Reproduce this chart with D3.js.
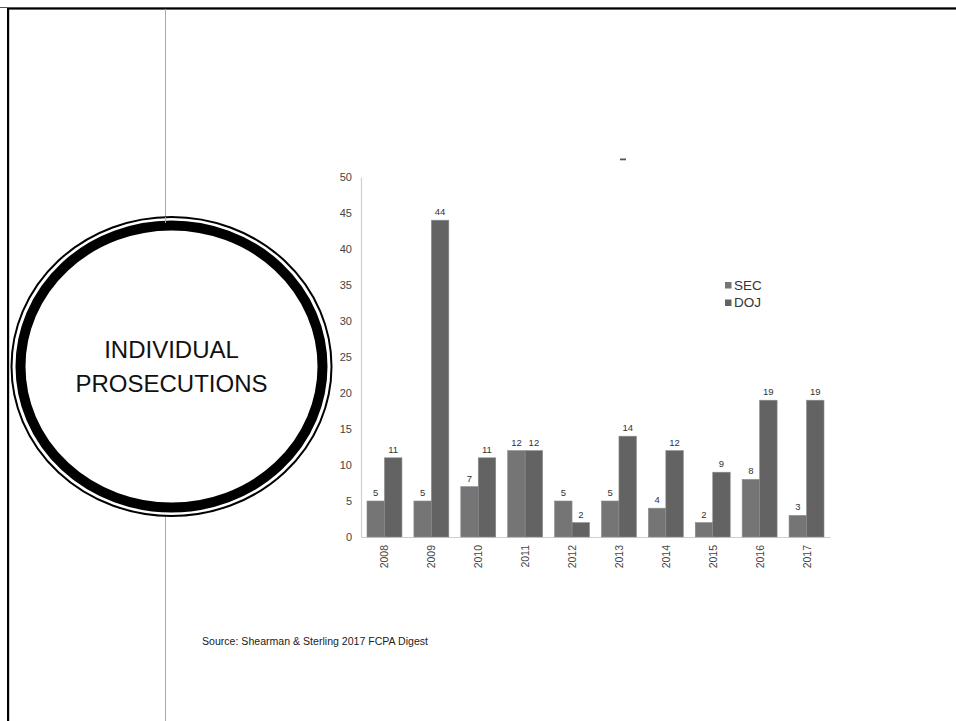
<!DOCTYPE html>
<html>
<head>
<meta charset="utf-8">
<script src="https://cdn.jsdelivr.net/npm/d3@7/dist/d3.min.js"></script>
<style>
  html, body { margin: 0; padding: 0; background: #fff; }
  svg { display: block; }
</style>
</head>
<body>
<svg id="chart" width="956" height="721"></svg>
<script>
// FCPA individual prosecutions by year
const years = ["2008", "2009", "2010", "2011", "2012", "2013", "2014", "2015", "2016", "2017"];
const secValues = [5, 5, 7, 12, 5, 5, 4, 2, 8, 3];
const dojValues = [11, 44, 11, 12, 2, 14, 12, 9, 19, 19];
const seriesNames = ["SEC", "DOJ"];
const yTicks = [0, 5, 10, 15, 20, 25, 30, 35, 40, 45, 50];
const titleLines = ["INDIVIDUAL", "PROSECUTIONS"];
const sourceNote = "Source: Shearman & Sterling 2017 FCPA Digest";

const colors = { SEC: "#757575", DOJ: "#636363" };

const svg = d3.select("#chart");

// page frame
svg.append("rect").attr("x", 0).attr("y", 7).attr("width", 956).attr("height", 1).attr("fill", "#555");
svg.append("rect").attr("x", 7).attr("y", 8).attr("width", 949).attr("height", 1.6).attr("fill", "#000");
svg.append("rect").attr("x", 7).attr("y", 8).attr("width", 2.2).attr("height", 713).attr("fill", "#000");
svg.append("line").attr("x1", 165.5).attr("x2", 165.5).attr("y1", 9).attr("y2", 721)
  .attr("stroke", "#aaa").attr("stroke-width", 1);

// chart area
const x0 = d3.scaleBand().domain(years).range([361, 830]).paddingInner(0.255).paddingOuter(0.128);
const x1 = d3.scaleBand().domain(seriesNames).range([0, x0.bandwidth()]);
const y = d3.scaleLinear().domain([0, 50]).range([537, 177]);

const g = svg.append("g");

// y axis
const yAxis = g.append("g").attr("transform", "translate(361,0)")
  .call(d3.axisLeft(y).tickValues(yTicks).tickSize(0).tickPadding(9));
yAxis.select(".domain").attr("stroke", "#d0d0d0").attr("stroke-width", 1.2);
yAxis.selectAll("text").attr("font-family", "Liberation Sans, Arial, sans-serif")
  .attr("font-size", 11).attr("fill", "#444");

// x axis
const xAxis = g.append("g").attr("transform", "translate(0,537)")
  .call(d3.axisBottom(x0).tickSize(0).tickPadding(0));
xAxis.select(".domain").attr("stroke", "#d0d0d0").attr("stroke-width", 1.2);
xAxis.selectAll("text")
  .attr("font-family", "Liberation Sans, Arial, sans-serif")
  .attr("font-size", 10.5).attr("fill", "#444")
  .attr("text-anchor", "end")
  .attr("transform", "translate(4,8) rotate(-90)")
  .attr("dy", 0).attr("x", 0).attr("y", 0);

// bars
const rows = years.map((yr, i) => ({ year: yr, SEC: secValues[i], DOJ: dojValues[i] }));
const groups = g.selectAll(".grp").data(rows).join("g")
  .attr("transform", d => `translate(${x0(d.year)},0)`);

groups.selectAll("rect").data(d => seriesNames.map(k => ({ key: k, value: d[k] }))).join("rect")
  .attr("x", d => x1(d.key))
  .attr("y", d => y(d.value))
  .attr("width", x1.bandwidth())
  .attr("height", d => y(0) - y(d.value))
  .attr("fill", d => colors[d.key])
  .attr("stroke", "#8c8c8c").attr("stroke-width", 0.6);

groups.selectAll("text.val").data(d => seriesNames.map(k => ({ key: k, value: d[k] }))).join("text")
  .attr("class", "val")
  .attr("x", d => x1(d.key) + x1.bandwidth() / 2)
  .attr("y", d => y(d.value) - 5)
  .attr("text-anchor", "middle")
  .attr("font-family", "Liberation Sans, Arial, sans-serif")
  .attr("font-size", 9.5).attr("fill", "#333")
  .text(d => d.value);

// legend
const legend = g.append("g").attr("transform", "translate(725,282)");
seriesNames.forEach((name, i) => {
  legend.append("rect").attr("x", 0).attr("y", i * 17.5).attr("width", 6.5).attr("height", 6.5)
    .attr("fill", colors[name]);
  legend.append("text").attr("x", 9).attr("y", i * 17.5 + 7.5)
    .attr("font-family", "Liberation Sans, Arial, sans-serif")
    .attr("font-size", 13.5).attr("fill", "#333").text(name);
});

// remnant title mark
g.append("rect").attr("x", 620).attr("y", 158.5).attr("width", 6).attr("height", 1.8).attr("fill", "#555");

// section badge
const cx = 171.5, cy = 366.5;
svg.append("ellipse").attr("cx", cx).attr("cy", cy).attr("rx", 160).attr("ry", 149.5)
  .attr("fill", "#fff").attr("stroke", "#000").attr("stroke-width", 2);
svg.append("ellipse").attr("cx", cx).attr("cy", cy).attr("rx", 151).attr("ry", 141)
  .attr("fill", "none").attr("stroke", "#000").attr("stroke-width", 10);
svg.append("line").attr("x1", 165.5).attr("x2", 165.5).attr("y1", 217).attr("y2", 223)
  .attr("stroke", "#aaa").attr("stroke-width", 1);

svg.append("g").selectAll("text").data(titleLines).join("text")
  .attr("x", cx).attr("y", (d, i) => 358 + i * 34)
  .attr("text-anchor", "middle")
  .attr("font-family", "Liberation Sans, Arial, sans-serif")
  .attr("font-size", 24).attr("fill", "#111")
  .text(d => d);

// source note
svg.append("text").attr("x", 202).attr("y", 645)
  .attr("font-family", "Liberation Sans, Arial, sans-serif")
  .attr("font-size", 10).attr("fill", "#222")
  .attr("textLength", 226).attr("lengthAdjust", "spacingAndGlyphs")
  .text(sourceNote);
</script>
</body>
</html>
